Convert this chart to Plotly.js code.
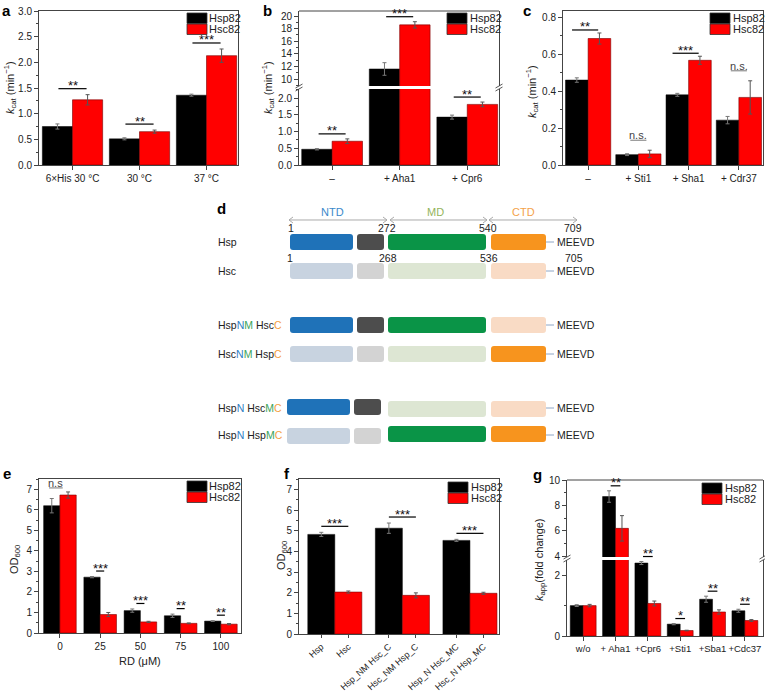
<!DOCTYPE html>
<html><head><meta charset="utf-8">
<script src="https://cdn.plot.ly/plotly-3.0.1.min.js"></script>
<style>html,body{margin:0;padding:0;background:#fff}#chart{width:765px;height:693px}</style>
</head><body><div id="chart"></div>
<script>
// ---------------- data ----------------
const seriesNames = ['Hsp82', 'Hsc82'];
// panel a
const aCats = ['6×His 30 °C', '30 °C', '37 °C'];
const aHsp = [0.75, 0.51, 1.36];
const aHspErr = [0.05, 0.02, 0.02];
const aHsc = [1.27, 0.65, 2.13];
const aHscErr = [0.10, 0.03, 0.13];
const aSig = ['**', '**', '***'];
// panel b
const bCats = ['–', '+ Aha1', '+ Cpr6'];
const bHsp = [0.47, 11.6, 1.43];
const bHspErr = [0.02, 1.0, 0.06];
const bHsc = [0.71, 18.6, 1.81];
const bHscErr = [0.07, 0.5, 0.07];
const bSig = ['**', '***', '**'];
// panel c
const cCats = ['–', '+ Sti1', '+ Sha1', '+ Cdr37'];
const cHsp = [0.46, 0.056, 0.38, 0.243];
const cHspErr = [0.012, 0.005, 0.008, 0.02];
const cHsc = [0.685, 0.06, 0.567, 0.366];
const cHscErr = [0.03, 0.02, 0.022, 0.09];
const cSig = ['**', 'n.s.', '***', 'n.s.'];
// panel d (schematic)
const domainNames = ['NTD', 'MD', 'CTD'];
const hspResidues = ['1', '272', '540', '709'];
const hscResidues = ['1', '268', '536', '705'];
const tailMotif = 'MEEVD';
const constructSource = ['pppp', 'cccc', 'pppc', 'cccp', 'ppcc', 'ccpp'];
const cN = '#2e7ec3', cM = '#3aa35b', cC = '#f4a042';
const constructLabels = [
  'Hsp',
  'Hsc',
  'Hsp<span style="color:' + cN + '">N</span><span style="color:' + cM + '">M</span> Hsc<span style="color:' + cC + '">C</span>',
  'Hsc<span style="color:' + cN + '">N</span><span style="color:' + cM + '">M</span> Hsp<span style="color:' + cC + '">C</span>',
  'Hsp<span style="color:' + cN + '">N</span> Hsc<span style="color:' + cM + '">M</span><span style="color:' + cC + '">C</span>',
  'Hsp<span style="color:' + cN + '">N</span> Hsp<span style="color:' + cM + '">M</span><span style="color:' + cC + '">C</span>'
];
// panel e
const eCats = ['0', '25', '50', '75', '100'];
const eHsp = [6.2, 2.72, 1.09, 0.84, 0.58];
const eHspErr = [0.35, 0.03, 0.08, 0.08, 0.02];
const eHsc = [6.72, 0.9, 0.54, 0.47, 0.43];
const eHscErr = [0.15, 0.1, 0.03, 0.02, 0.03];
const eSig = ['n.s', '***', '***', '**', '**'];
// panel f
const fLabels = ['Hsp', 'Hsc', 'Hsp_NM Hsc_C', 'Hsc_NM Hsp_C', 'Hsp_N Hsc_MC', 'Hsc_N Hsp_MC'];
const fHsp = [4.82, 5.12, 4.53];
const fHspErr = [0.1, 0.25, 0.05];
const fHsc = [2.03, 1.87, 1.97];
const fHscErr = [0.05, 0.12, 0.05];
const fSig = ['***', '***', '***'];
// panel g
const gCats = ['w/o', '+ Aha1', '+Cpr6', '+Sti1', '+Sba1', '+Cdc37'];
const gHsp = [1.0, 8.7, 2.4, 0.39, 1.21, 0.83];
const gHspErr = [0.03, 0.45, 0.05, 0.02, 0.1, 0.05];
const gHsc = [1.0, 6.2, 1.07, 0.18, 0.79, 0.51];
const gHscErr = [0.04, 1.0, 0.08, 0.01, 0.07, 0.03];
const gSig = ['', '**', '**', '*', '**', '**'];

// ---------------- layout helpers ----------------
const W = 765, H = 693;
const PX = x => x / W, PY = y => 1 - y / H;
const FONT = '"Liberation Sans", Arial, Helvetica, sans-serif';
const BLACK = '#000000', RED = '#ff0000';
const LINE = '#444444';
const shapes = [], annotations = [], traces = [];

const P = {
  a: {xpx: [39, 238], xr: [-0.5, 2.47], w: 0.45, secs: [{px: [165, 11], r: [0, 3.0]}]},
  b: {xpx: [299, 499], xr: [-0.49, 2.47], w: 0.45, secs: [{px: [165, 89], r: [0, 2.27]}, {px: [86, 11], r: [8.9, 20.8]}]},
  c: {xpx: [563, 763], xr: [-0.5, 3.48], w: 0.45, secs: [{px: [165, 11], r: [0, 0.834]}]},
  e: {xpx: [39, 241], xr: [-0.52, 4.5], w: 0.405, secs: [{px: [633, 479], r: [0, 7.5]}]},
  f: {xpx: [299, 499], xr: [-0.53, 2.43], w: 0.4, secs: [{px: [634, 479], r: [0, 7.5]}]},
  g: {xpx: [567, 763], xr: [-0.5, 5.56], w: 0.4, secs: [{px: [636, 560], r: [0, 2.5]}, {px: [557, 480], r: [3.95, 10]}]}
};
function xToPx(p, v) { return p.xpx[0] + (v - p.xr[0]) / (p.xr[1] - p.xr[0]) * (p.xpx[1] - p.xpx[0]); }
function yToPx(p, v) {
  let s = p.secs[0];
  if (p.secs.length > 1 && v > s.r[1]) s = p.secs[1];
  return s.px[0] + (v - s.r[0]) / (s.r[1] - s.r[0]) * (s.px[1] - s.px[0]);
}
function ax(o) {
  return Object.assign({showline: true, linecolor: LINE, linewidth: 1, ticks: 'outside', ticklen: 4, tickwidth: 1,
    tickcolor: LINE, showgrid: false, zeroline: false, tickfont: {size: 10, color: '#222'}, fixedrange: true}, o);
}
function minor(d) { return {ticks: 'outside', ticklen: 2, dtick: d, tickcolor: LINE, tickwidth: 1, showgrid: false}; }

function barPair(p, x, hsp, hspE, hsc, hscE, xa, ya) {
  const common = {type: 'bar', x: x, xaxis: xa, yaxis: ya, width: p.w, showlegend: false, hoverinfo: 'skip'};
  traces.push(Object.assign({}, common, {y: hsp, name: seriesNames[0], offset: -p.w,
    marker: {color: BLACK, line: {color: '#000', width: 0.5}},
    error_y: {type: 'data', array: hspE, color: '#777', thickness: 1, width: 2}}));
  traces.push(Object.assign({}, common, {y: hsc, name: seriesNames[1], offset: 0,
    marker: {color: RED, line: {color: '#7a0000', width: 0.6}},
    error_y: {type: 'data', array: hscE, color: '#555', thickness: 1, width: 2}}));
}
function line(x0, y0, x1, y1, color, width) {
  shapes.push({type: 'line', xref: 'paper', yref: 'paper', x0: PX(x0), y0: PY(y0), x1: PX(x1), y1: PY(y1),
    line: {color: color || '#000', width: width || 1}});
}
function text(x, y, t, o) {
  annotations.push(Object.assign({xref: 'paper', yref: 'paper', x: PX(x), y: PY(y), text: t, showarrow: false,
    xanchor: 'center', yanchor: 'middle', font: {size: 10, color: '#222', family: FONT}}, o || {}));
}
function sigMarks(p, sigs, hsp, hspE, hsc, hscE, opt) {
  sigs.forEach((s, i) => {
    if (!s) return;
    const ns = s.indexOf('n') === 0;
    const top = Math.max(hsp[i] + hspE[i], hsc[i] + hscE[i]);
    const o = ns ? opt.ns : opt.st;
    const ypx = yToPx(p, top) - o.off;
    const cx = i + (o.dx || 0);
    const x0 = xToPx(p, cx - o.hw), x1 = xToPx(p, cx + o.hw);
    line(x0, ypx, x1, ypx, ns ? '#555' : '#000', ns ? 0.8 : 1.2);
    text((x0 + x1) / 2, ypx, s, {yshift: ns ? 5 : 3, font: {size: ns ? 11 : 13, color: ns ? '#444' : '#111', family: FONT}});
  });
}
function legendBox(xRightPx, yTopPx, swRight) {
  seriesNames.forEach((n, k) => {
    const y0 = yTopPx + k * 11, y1 = y0 + 10.5;
    const sx1 = xRightPx - swRight, sx0 = sx1 - 20;
    shapes.push({type: 'rect', xref: 'paper', yref: 'paper', x0: PX(sx0), x1: PX(sx1), y0: PY(y1), y1: PY(y0),
      fillcolor: k === 0 ? BLACK : RED, line: {color: '#333', width: 0.8}});
    text(sx1 + 0.5, (y0 + y1) / 2, n, {xanchor: 'left', font: {size: 11, color: '#222', family: FONT}});
  });
}
function breakMarks(xs, yc) {
  xs.forEach(x => {
    line(x - 3.5, yc + 0.5, x + 3.5, yc - 3.5, '#444', 0.9);
    line(x - 3.5, yc + 3.5, x + 3.5, yc - 0.5, '#444', 0.9);
  });
}
function topFrame(p, ypx) { line(p.xpx[0], ypx, p.xpx[1], ypx, LINE, 1); }
function yTitle(x, y, t) { text(x, y, t, {textangle: -90, font: {size: 11, color: '#222', family: FONT}}); }
function panelLabel(x, y, t, anchor) {
  text(x, y, '<b>' + t + '</b>', {xanchor: 'left', yanchor: anchor || 'middle', font: {size: 15, color: '#000', family: FONT}});
}

const kcat = '<i>k</i><sub>cat</sub> (min<sup>−1</sup>)';
const layout = {
  width: W, height: H, margin: {l: 0, r: 0, t: 0, b: 0}, paper_bgcolor: '#ffffff', plot_bgcolor: 'rgba(0,0,0,0)',
  font: {family: FONT, size: 10, color: '#222'}, showlegend: false, barmode: 'overlay'
};

// ---- panel a ----
barPair(P.a, aCats, aHsp, aHspErr, aHsc, aHscErr, 'x', 'y');
layout.xaxis = ax({domain: [PX(39), PX(238)], anchor: 'y', type: 'category', range: P.a.xr, mirror: true, tickangle: 0});
layout.yaxis = ax({domain: [PY(165), PY(11)], anchor: 'x', range: P.a.secs[0].r, dtick: 0.5, tick0: 0, tickformat: '.1f', mirror: true, minor: minor(0.25)});
sigMarks(P.a, aSig, aHsp, aHspErr, aHsc, aHscErr, {st: {off: 6, hw: 0.21}});
legendBox(238, 13, 31);
yTitle(10, 88, kcat);
panelLabel(0, 0, 'a', 'top');

// ---- panel b (broken axis) ----
barPair(P.b, bCats, bHsp, bHspErr, bHsc, bHscErr, 'x2', 'y2');
barPair(P.b, bCats, bHsp, bHspErr, bHsc, bHscErr, 'x2', 'y3');
layout.xaxis2 = ax({domain: [PX(299), PX(499)], anchor: 'y2', type: 'category', range: P.b.xr, tickangle: 0});
layout.yaxis2 = ax({domain: [PY(165), PY(89)], anchor: 'x2', range: P.b.secs[0].r, dtick: 0.5, tick0: 0, tickformat: '.1f', mirror: true, minor: minor(0.25)});
layout.yaxis3 = ax({domain: [PY(86), PY(11)], anchor: 'x2', range: P.b.secs[1].r, dtick: 2, tick0: 0, mirror: true, minor: minor(1)});
topFrame(P.b, 11);
sigMarks(P.b, bSig, bHsp, bHspErr, bHsc, bHscErr, {st: {off: 5, hw: 0.2}});
breakMarks([299, 499], 87.5);
legendBox(499, 13, 32);
yTitle(268, 88, kcat);
panelLabel(261, 0, 'b', 'top');

// ---- panel c ----
barPair(P.c, cCats, cHsp, cHspErr, cHsc, cHscErr, 'x4', 'y4');
layout.xaxis4 = ax({domain: [PX(563), PX(763)], anchor: 'y4', type: 'category', range: P.c.xr, mirror: true, tickangle: 0});
layout.yaxis4 = ax({domain: [PY(165), PY(11)], anchor: 'x4', range: P.c.secs[0].r, dtick: 0.2, tick0: 0, tickformat: '.1f', mirror: true, minor: minor(0.1)});
sigMarks(P.c, cSig, cHsp, cHspErr, cHsc, cHscErr, {st: {off: 3, hw: 0.26, dx: -0.06}, ns: {off: 10, hw: 0.16}});
legendBox(763, 13, 33);
yTitle(532, 92, kcat);
panelLabel(521, 0, 'c', 'top');

// ---- panel d (domain schematic) ----
const segFull = ['#1f72b8', '#4d4d4d', '#0a9447', '#f7941e'];
const segLight = ['#c8d3e0', '#d3d3d3', '#dde6d3', '#f9dbc5'];
const segX = [[290, 353], [357, 384], [388, 486], [491, 546]];
const rowY = [242, 271, 325, 354, 408, 435];
const nShift = [[0, 0], [0, 0], [0, 0], [0, 0], [-3, -1], [-3, 1]];
function roundRect(x0, y0, x1, y1, r) {
  const f = (a, b) => PX(a).toFixed(5) + ',' + PY(b).toFixed(5);
  return 'M' + f(x0 + r, y0) + ' L' + f(x1 - r, y0) + ' Q' + f(x1, y0) + ' ' + f(x1, y0 + r) +
    ' L' + f(x1, y1 - r) + ' Q' + f(x1, y1) + ' ' + f(x1 - r, y1) + ' L' + f(x0 + r, y1) +
    ' Q' + f(x0, y1) + ' ' + f(x0, y1 - r) + ' L' + f(x0, y0 + r) + ' Q' + f(x0, y0) + ' ' + f(x0 + r, y0) + ' Z';
}
constructSource.forEach((src, r) => {
  const yc = rowY[r];
  for (let k = 0; k < 4; k++) {
    const sh = k < 2 ? nShift[r] : [0, -nShift[r][1]];
    const col = src[k] === 'p' ? segFull[k] : segLight[k];
    shapes.push({type: 'path', xref: 'paper', yref: 'paper', path: roundRect(segX[k][0] + sh[0], yc - 8 + sh[1], segX[k][1] + sh[0], yc + 8 + sh[1], 3),
      fillcolor: col, line: {width: 0}});
  }
  line(546, yc, 554, yc, '#8ea6c6', 1);
  text(555, yc, tailMotif, {xanchor: 'left', font: {size: 10.5, color: '#222', family: FONT}});
  text(216, yc, constructLabels[r], {xanchor: 'left', font: {size: 10.5, color: '#222', family: FONT}});
});
const resX = [291, 387, 488, 573];
hspResidues.forEach((t, k) => text(resX[k], 228, t, {font: {size: 10.5, color: '#222', family: FONT}}));
hscResidues.forEach((t, k) => text(resX[k] + (k === 0 ? -1 : 1), 258, t, {font: {size: 10.5, color: '#222', family: FONT}}));
const domCol = ['#3b89cb', '#93b45c', '#f4a24a'];
const domTextX = [332, 435, 523];
const domArrow = [[289, 387], [390, 487], [489, 577]];
domainNames.forEach((n, k) => {
  text(domTextX[k], 212, n, {font: {size: 11, color: domCol[k], family: FONT}});
  const [a0, a1] = domArrow[k], yy = 220;
  const f = (a, b) => PX(a).toFixed(5) + ',' + PY(b).toFixed(5);
  shapes.push({type: 'path', xref: 'paper', yref: 'paper',
    path: 'M' + f(a0 + 4, yy - 3) + ' L' + f(a0, yy) + ' L' + f(a0 + 4, yy + 3) + ' M' + f(a0, yy) + ' L' + f(a1, yy) +
      ' M' + f(a1 - 4, yy - 3) + ' L' + f(a1, yy) + ' L' + f(a1 - 4, yy + 3),
    line: {color: '#aaaaaa', width: 1}});
});
panelLabel(215, 208, 'd');

// ---- panel e ----
barPair(P.e, eCats, eHsp, eHspErr, eHsc, eHscErr, 'x5', 'y5');
layout.xaxis5 = ax({domain: [PX(39), PX(241)], anchor: 'y5', type: 'category', range: P.e.xr, mirror: true, tickangle: 0});
layout.yaxis5 = ax({domain: [PY(633), PY(479)], anchor: 'x5', range: P.e.secs[0].r, dtick: 1, tick0: 0, mirror: true, minor: minor(0.5)});
sigMarks(P.e, eSig, eHsp, eHspErr, eHsc, eHscErr, {st: {off: 5.5, hw: 0.1}, ns: {off: 4, hw: 0.17, dx: -0.1}});
legendBox(241, 481, 34);
yTitle(15, 560, 'OD<sub>600</sub>');
text(140, 661, 'RD (μM)', {font: {size: 11, color: '#222', family: FONT}});
panelLabel(1, 473, 'e');

// ---- panel f ----
const fIdx = fHsp.map((_, i) => i);
barPair(P.f, fIdx, fHsp, fHspErr, fHsc, fHscErr, 'x6', 'y6');
const fTickVals = [];
fIdx.forEach(i => { fTickVals.push(i - P.f.w / 2, i + P.f.w / 2); });
layout.xaxis6 = ax({domain: [PX(299), PX(499)], anchor: 'y6', type: 'linear', range: P.f.xr, mirror: true, ticklen: 3,
  tickmode: 'array', tickvals: fTickVals, ticktext: fLabels, tickangle: -42, tickfont: {size: 9, color: '#222'}});
layout.yaxis6 = ax({domain: [PY(634), PY(479)], anchor: 'x6', range: P.f.secs[0].r, dtick: 1, tick0: 0, mirror: true, minor: minor(0.5)});
sigMarks(P.f, fSig, fHsp, fHspErr, fHsc, fHscErr, {st: {off: 6, hw: 0.2}});
legendBox(499, 482, 31);
yTitle(282, 556, 'OD<sub>600</sub>');
panelLabel(282, 473, 'f');

// ---- panel g (broken axis) ----
barPair(P.g, gCats, gHsp, gHspErr, gHsc, gHscErr, 'x7', 'y7');
barPair(P.g, gCats, gHsp, gHspErr, gHsc, gHscErr, 'x7', 'y8');
layout.xaxis7 = ax({domain: [PX(567), PX(763)], anchor: 'y7', type: 'category', range: P.g.xr, tickangle: 0, tickfont: {size: 9.5, color: '#222'}});
layout.yaxis7 = ax({domain: [PY(636), PY(560)], anchor: 'x7', range: P.g.secs[0].r, dtick: 2, tick0: 0, mirror: true, minor: minor(1)});
layout.yaxis8 = ax({domain: [PY(557), PY(480)], anchor: 'x7', range: P.g.secs[1].r, dtick: 2, tick0: 0, mirror: true, minor: minor(1)});
topFrame(P.g, 480);
sigMarks(P.g, gSig, gHsp, gHspErr, gHsc, gHscErr, {st: {off: 5, hw: 0.15}});
breakMarks([567, 763], 558.5);
legendBox(763, 483, 41);
yTitle(540, 560, '<i>k</i><sub>app</sub>(fold change)');
panelLabel(531, 475, 'g');

layout.shapes = shapes;
layout.annotations = annotations;
Plotly.newPlot('chart', traces, layout, {staticPlot: true, displayModeBar: false});
</script>
</body></html>
